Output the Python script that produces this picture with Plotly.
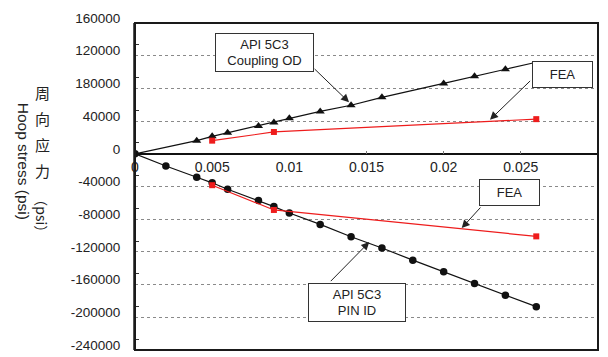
import plotly.graph_objects as go

# Hoop strain (x) vs. hoop stress (psi) for a threaded connection
coupling_strain = [0.004, 0.005, 0.006, 0.008, 0.009, 0.010, 0.012, 0.014, 0.016, 0.020, 0.022, 0.024]
coupling_stress = [16100, 21400, 25800, 33900, 38400, 43600, 51800, 59400, 69100, 86100, 94900, 103400]
coupling_line_strain = [0] + coupling_strain + [0.026]
coupling_line_stress = [0] + coupling_stress + [112000]

pin_strain = [0, 0.002, 0.004, 0.005, 0.006, 0.008, 0.009, 0.010, 0.012, 0.014,
              0.016, 0.018, 0.020, 0.022, 0.024, 0.026]
pin_stress = [0, -14900, -28700, -35500, -43300, -57000, -64600, -72400, -86400, -101500,
              -115200, -130100, -144200, -158800, -173000, -187000]

fea_coupling_strain = [0.005, 0.009, 0.026]
fea_coupling_stress = [16100, 26700, 42400]
fea_pin_strain = [0.005, 0.009, 0.026]
fea_pin_stress = [-38400, -68700, -101000]

x_ticks = [0, 0.005, 0.01, 0.015, 0.02, 0.025, 0.03]
x_tick_text = ["0", "0.005", "0.01", "0.015", "0.02", "0.025", "0.03"]
y_ticks = [160000, 120000, 80000, 40000, 0, -40000, -80000, -120000, -160000, -200000, -240000]
y_tick_text = ["160000", "120000", "180000", "40000", "0", "-40000", "-80000",
               "-120000", "-160000", "-200000", "-240000"]

title_zh = ["周", "向", "应", "力"]
title_zh_unit = "（psi）"
title_en = "Hoop stress (psi)"

FONT = "Liberation Sans, Arial, sans-serif"
CJK = "Noto Sans CJK SC"
BLACK = "#111111"
RED = "#ee1c1c"
TEXT = "#222222"

W, H = 608, 357
ML, MR, MT, MB = 135, 10, 23, 4
PW, PH = W - ML - MR, H - MT - MB


def px_to_paper(px, py):
    return (px - ML) / PW, (H - MB - py) / PH


fig = go.Figure()

fig.add_trace(go.Scatter(x=coupling_line_strain, y=coupling_line_stress, mode="lines",
                         line=dict(color=BLACK, width=1.2), hoverinfo="skip"))
fig.add_trace(go.Scatter(x=coupling_strain, y=coupling_stress, mode="markers",
                         marker=dict(symbol="triangle-up", size=8, color=BLACK)))
fig.add_trace(go.Scatter(x=pin_strain, y=pin_stress, mode="lines+markers",
                         line=dict(color=BLACK, width=1.2),
                         marker=dict(symbol="circle", size=7.5, color=BLACK)))
fig.add_trace(go.Scatter(x=fea_coupling_strain, y=fea_coupling_stress, mode="lines+markers",
                         line=dict(color=RED, width=1.2),
                         marker=dict(symbol="square", size=6, color=RED)))
fig.add_trace(go.Scatter(x=fea_pin_strain, y=fea_pin_stress, mode="lines+markers",
                         line=dict(color=RED, width=1.2),
                         marker=dict(symbol="square", size=6, color=RED)))

# Callout boxes
boxes = [
    ("API 5C3<br>Coupling OD", 0.00839, 124200, 97, 37),
    ("FEA", 0.02767, 96600, 59, 25),
    ("FEA", 0.02428, -47500, 59, 25),
    ("API 5C3<br>PIN ID", 0.01438, -181400, 96, 37),
]
for text, bx, by, w, h in boxes:
    fig.add_annotation(x=bx, y=by, xref="x", yref="y", text=text, showarrow=False,
                       width=w, height=h, bgcolor="white", bordercolor="#333333",
                       borderwidth=1, borderpad=0,
                       font=dict(family=FONT, size=13, color=TEXT))

# Callout arrows (tail -> head)
arrows = [
    (0.01154, 105500, 0.01387, 63000),
    (0.0257, 90900, 0.0230, 41600),
    (0.02247, -63900, 0.02117, -90900),
    (0.01259, -157600, 0.01518, -107900),
]
for tx, ty, hx, hy in arrows:
    fig.add_annotation(x=hx, y=hy, ax=tx, ay=ty, xref="x", yref="y", axref="x", ayref="y",
                       text="", showarrow=True, arrowhead=2, arrowsize=1.6,
                       arrowwidth=1, arrowcolor=TEXT)

# Y-axis title: English rotated, Chinese stacked vertically
x, y = px_to_paper(23, 162)
fig.add_annotation(x=x, y=y, xref="paper", yref="paper", text=title_en, textangle=90,
                   showarrow=False, xanchor="center", yanchor="middle",
                   font=dict(family=FONT, size=15.5, color=TEXT))
for i, ch in enumerate(title_zh):
    x, y = px_to_paper(42, 93 + 26.3 * i)
    fig.add_annotation(x=x, y=y, xref="paper", yref="paper", text=ch, showarrow=False,
                       xanchor="center", yanchor="middle",
                       font=dict(family=CJK, size=15, color=TEXT))
x, y = px_to_paper(42, 217)
fig.add_annotation(x=x, y=y, xref="paper", yref="paper", text=title_zh_unit, textangle=90,
                   showarrow=False, xanchor="center", yanchor="middle",
                   font=dict(family=CJK, size=14, color=TEXT))

fig.add_shape(type="rect", xref="paper", yref="paper", x0=0, x1=1, y0=0, y1=1,
              line=dict(color="#1a1a1a", width=2), layer="above")

fig.update_layout(
    width=W, height=H,
    margin=dict(l=ML, r=MR, t=MT, b=MB),
    paper_bgcolor="white", plot_bgcolor="white",
    showlegend=False,
    font=dict(family=FONT, color=TEXT),
    xaxis=dict(range=[0, 0.03], anchor="free", position=0.6,
               showline=True, linecolor=BLACK, linewidth=1,
               tickvals=x_ticks, ticktext=x_tick_text, ticks="",
               minor=dict(tickvals=[0.015, 0.02, 0.025], ticks="inside", ticklen=3,
                          tickcolor="#777777", showgrid=False),
               showgrid=False, zeroline=False,
               tickfont=dict(family=FONT, size=14, color=TEXT)),
    yaxis=dict(range=[-240000, 160000],
               tickvals=y_ticks, ticktext=y_tick_text, ticks="",
               showline=True, linecolor="#555555", linewidth=2,
               showgrid=True, gridcolor="#8a8a8a", griddash="dot", gridwidth=1,
               zeroline=True, zerolinecolor=BLACK, zerolinewidth=1,
               minor=dict(tick0=13333, dtick=40000, ticks="inside", ticklen=4,
                          tickcolor="#333333", showgrid=False),
               ticklabelstandoff=10, ticklabelshift=-5,
               tickfont=dict(family=FONT, size=13.5, color=TEXT)),
)

fig.write_html("out.html")
